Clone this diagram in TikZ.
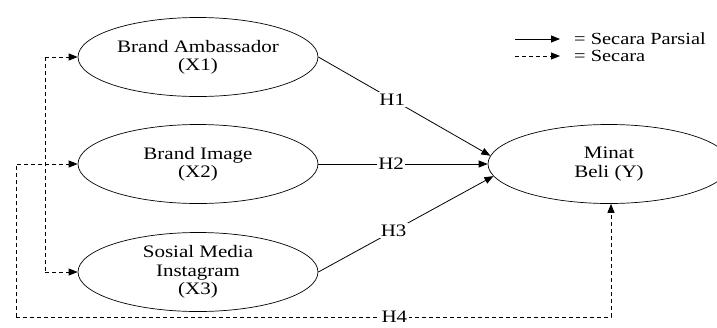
\documentclass[tikz,border=0pt]{standalone}
\usepackage{fontspec}
\setmainfont{Liberation Serif}[FakeStretch=1.2]
\usepackage{tikz}
\usetikzlibrary{arrows.meta, positioning, shapes.geometric, calc}

\tikzset{
    var/.style={ellipse, draw, line width=0.7pt, minimum width=240pt, minimum height=79pt, inner sep=0pt, align=center, font=\fontsize{17.5}{18.3}\selectfont},
    hyp/.style={fill=white, inner sep=1.5pt, font=\fontsize{17.5}{18.3}\selectfont},
    solidarrow/.style={line width=0.8pt, -{Triangle[length=9pt, width=7pt]}},
    dasharrow/.style={line width=0.9pt, dash pattern=on 4pt off 3pt, -{Triangle[length=9pt, width=7pt]}}
}

\begin{document}
\begin{tikzpicture}[x=1pt, y=-1pt]
        \useasboundingbox (0,0) rectangle (717,327);

        \node[var] (x1) at (198, 57) {Brand Ambassador\\(X1)};
        \node[var] (x2) at (198, 164) {Brand Image\\(X2)};
        \node[var] (x3) at (198, 272) {Sosial Media\\Instagram\\(X3)};
        \node[var, minimum width=242pt] (y) at (609, 164) {Minat\\Beli (Y)};

        % Legend
        \node[anchor=west, inner sep=0pt, font=\fontsize{17}{18}\selectfont] (lgpar) at (574, 39) {= Secara Parsial};
        \node[anchor=west, inner sep=0pt, font=\fontsize{17}{18}\selectfont] (lgsim) at (574, 56) {= Secara};
        \coordinate (lgpa) at (515, 39); \coordinate (lgpb) at (560, 39);
        \coordinate (lgsa) at (515, 56); \coordinate (lgsb) at (560, 56);
        \draw[solidarrow] (lgpa) -- (lgpb);
        \draw[dasharrow] (lgsa) -- (lgsb);

        % Partial paths
        \draw[solidarrow] (x1.east) -- node[hyp, pos=0.43] {H1} (y.176);
        \draw[solidarrow] (x2.east) -- node[hyp, pos=0.43] {H2} (y.west);
        \draw[solidarrow] (x3.east) -- node[hyp, pos=0.43] {H3} (y.186);

        % Simultaneous paths
        \coordinate (trunk) at (45, 0);
        \coordinate (loop) at (16, 317);
        \draw[line width=0.9pt, dash pattern=on 4pt off 3pt] (trunk |- x1.west) -- (trunk |- x3.west);
        \draw[dasharrow] (trunk |- x1.west) -- (x1.west);
        \draw[dasharrow] (trunk |- x3.west) -- (x3.west);
        \draw[dasharrow] (loop) -- (loop |- x2.west) -- (x2.west);
        \draw[dasharrow] (loop) -| node[hyp, pos=0.318] {H4} ($(y.south)+(2,0)$);
    \end{tikzpicture}
\end{document}
